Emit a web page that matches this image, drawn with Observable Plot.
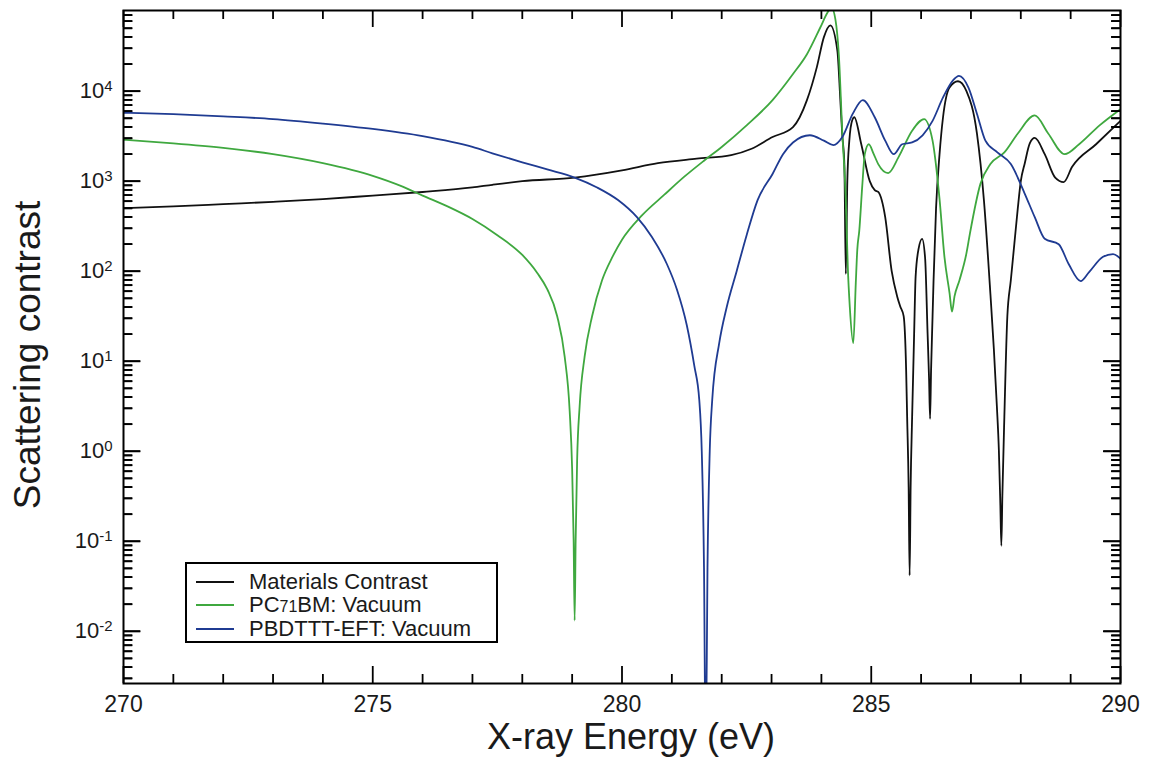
<!DOCTYPE html>
<html><head><meta charset="utf-8">
<script src="https://cdn.jsdelivr.net/npm/d3@7"></script>
<script src="https://cdn.jsdelivr.net/npm/@observablehq/plot@0.6"></script>
<style>
html,body{margin:0;padding:0;background:#fff;}
#wrap{position:relative;width:1150px;height:773px;font-family:"Liberation Sans",Arial,sans-serif;overflow:hidden;}
#legend{position:absolute;left:185px;top:562px;width:309px;height:77px;border:2px solid #000;background:#fff;}
.row{position:absolute;left:0;height:23px;display:flex;align-items:center;font-size:22px;color:#1a1a1a;white-space:nowrap;}
.sw{width:38px;height:0;border-top:2px solid;margin-left:9px;margin-right:15px;}
.small{font-size:16px;}
</style></head><body><div id="wrap"></div>
<script>
// ---- data (energy in eV, log10 of scattering contrast) ----
const seriesNames = ["Materials Contrast", "PC71BM: Vacuum", "PBDTTT-EFT: Vacuum"];
const seriesColors = ["#111111", "#3fa83f", "#1f3b92"];

const blackCurve = [[270,2.70],[271,2.72],[272,2.745],[273,2.77],[274,2.80],[275,2.84],[276,2.88],[277,2.93],[277.4,2.96],[278,3.0],[279.05,3.04],[280,3.12],[280.72,3.2],[281.5,3.25],[282.19,3.29],[282.6,3.36],[283.02,3.49],[283.43,3.6],[283.71,3.9],[283.91,4.27],[284.05,4.6],[284.18,4.73],[284.32,4.45],[284.38,3.9],[284.42,3.5],[284.46,3.2],[284.49,1.97],[284.52,3.0],[284.56,3.45],[284.62,3.68],[284.66,3.71],[284.8,3.41],[284.97,3.0],[285.07,2.9],[285.14,2.88],[285.28,2.6],[285.41,2.0],[285.52,1.72],[285.58,1.61],[285.65,1.5],[285.7,0.9],[285.72,0.38],[285.75,-0.4],[285.77,-1.38],[285.79,-0.4],[285.82,0.38],[285.86,1.3],[285.89,1.94],[285.95,2.25],[286.02,2.36],[286.08,2.15],[286.13,1.31],[286.16,0.8],[286.18,0.36],[286.2,0.9],[286.23,1.5],[286.25,1.9],[286.3,2.7],[286.37,3.3],[286.44,3.71],[286.57,4.04],[286.74,4.11],[286.91,4.0],[287.12,3.53],[287.26,2.79],[287.39,1.75],[287.46,1.13],[287.52,0.5],[287.56,0.01],[287.59,-0.6],[287.61,-1.05],[287.63,-0.5],[287.67,0.38],[287.73,1.5],[287.8,1.9],[287.87,2.3],[287.94,2.7],[288.0,3.0],[288.08,3.2],[288.18,3.42],[288.28,3.48],[288.48,3.3],[288.69,3.04],[288.86,2.99],[289.03,3.16],[289.51,3.41],[290,3.67]];

const greenCurve = [[270,3.46],[271,3.42],[272,3.37],[273,3.30],[274,3.20],[275,3.06],[275.6,2.94],[276,2.84],[276.5,2.72],[277,2.58],[277.5,2.40],[278,2.18],[278.3,1.98],[278.5,1.80],[278.7,1.50],[278.85,1.05],[278.95,0.45],[279.0,-0.2],[279.03,-1.0],[279.05,-1.88],[279.07,-1.0],[279.1,-0.1],[279.15,0.5],[279.25,1.05],[279.4,1.5],[279.6,1.9],[279.8,2.15],[280.0,2.35],[280.4,2.62],[280.85,2.85],[281.25,3.05],[281.65,3.23],[282.0,3.38],[282.5,3.62],[283.02,3.9],[283.43,4.19],[283.71,4.41],[283.98,4.71],[284.12,4.87],[284.2,4.93],[284.28,4.8],[284.35,4.4],[284.42,3.53],[284.49,2.79],[284.53,2.04],[284.57,1.6],[284.64,1.2],[284.69,1.87],[284.72,2.24],[284.76,2.45],[284.82,2.95],[284.87,3.3],[284.95,3.41],[285.05,3.3],[285.14,3.19],[285.34,3.09],[285.55,3.27],[285.82,3.56],[286.06,3.69],[286.23,3.45],[286.37,2.8],[286.47,2.15],[286.57,1.76],[286.62,1.55],[286.67,1.72],[286.77,1.9],[286.91,2.2],[286.98,2.42],[287.19,2.97],[287.39,3.19],[287.67,3.32],[287.94,3.53],[288.28,3.73],[288.55,3.53],[288.88,3.3],[289.17,3.41],[289.58,3.62],[290,3.8]];

const blueCurve = [[270,3.76],[271,3.745],[272,3.72],[273,3.69],[274,3.64],[275,3.58],[276,3.5],[277,3.38],[277.4,3.31],[278,3.21],[278.5,3.13],[279.05,3.04],[279.5,2.93],[279.92,2.79],[280.3,2.6],[280.6,2.38],[280.9,2.08],[281.1,1.8],[281.3,1.4],[281.45,0.95],[281.55,0.57],[281.6,0.0],[281.645,-1.29],[281.68,-3.5],[281.715,-1.29],[281.76,0.0],[281.81,0.57],[281.95,1.2],[282.1,1.6],[282.3,2.0],[282.5,2.4],[282.72,2.79],[283.02,3.08],[283.23,3.3],[283.43,3.43],[283.77,3.51],[284.05,3.45],[284.24,3.4],[284.42,3.49],[284.63,3.75],[284.83,3.9],[285.07,3.71],[285.28,3.45],[285.45,3.3],[285.62,3.41],[285.82,3.43],[286.03,3.51],[286.23,3.67],[286.44,3.93],[286.64,4.12],[286.76,4.17],[286.95,4.04],[287.12,3.75],[287.29,3.45],[287.53,3.32],[287.8,3.19],[288.08,2.86],[288.28,2.6],[288.48,2.36],[288.76,2.3],[288.96,2.08],[289.2,1.89],[289.37,1.99],[289.65,2.16],[289.85,2.19],[290,2.14]];

const xDomain = [270, 290];
const xMajorTicks = [270, 275, 280, 285, 290];
const xMinorTicks = d3.range(270, 291, 1);
const yDecades = [1e-2, 1e-1, 1e0, 1e1, 1e2, 1e3, 1e4];
const yDomain = [2.63e-3, 7.87e4];
const xLabel = "X-ray Energy (eV)";
const yLabel = "Scattering contrast";

// ---- layout ----
const W = 1150, H = 773, mL = 123, mR = 30, mT = 10, mB = 90;
const frameW = W - mL - mR, frameH = H - mT - mB;
const majorLen = 17, minorLen = 9;
const evPerPx = (xDomain[1] - xDomain[0]) / frameW;

// ---- build ----
const toRows = (curve, name) => curve.map(([e, lg]) => ({energy: e, contrast: Math.pow(10, lg), series: name}));
const data = [
  ...toRows(blackCurve, seriesNames[0]),
  ...toRows(greenCurve, seriesNames[1]),
  ...toRows(blueCurve, seriesNames[2])
];
const yMinor = [];
for (const d of [1e-3, ...yDecades]) for (let m = 2; m <= 9; m++) {
  const v = d * m;
  if (v >= yDomain[0] && v <= yDomain[1]) yMinor.push(v);
}
const xMinorOnly = xMinorTicks.filter(v => !xMajorTicks.includes(v));

const tk = {stroke: "#000", strokeWidth: 1.8};
// horizontal inward ticks on the left and right frame edges
const yTickLinks = (values, len) => [
  Plot.link(values, {x1: () => xDomain[0], x2: () => xDomain[0] + len * evPerPx, y1: d => d, y2: d => d, ...tk}),
  Plot.link(values, {x1: () => xDomain[1] - len * evPerPx, x2: () => xDomain[1], y1: d => d, y2: d => d, ...tk})
];

const chart = Plot.plot({
  width: W, height: H,
  marginLeft: mL, marginRight: mR, marginTop: mT, marginBottom: mB,
  style: {fontFamily: "'Liberation Sans', Arial, sans-serif", background: "white", color: "#1a1a1a"},
  x: {domain: xDomain, axis: null},
  y: {type: "log", domain: yDomain, axis: null},
  color: {domain: seriesNames, range: seriesColors},
  marks: [
    Plot.line(data, {x: "energy", y: "contrast", z: "series", stroke: "series", strokeWidth: 1.8, curve: "monotone-x", clip: true}),
    // tick labels
    Plot.axisX(xMajorTicks, {anchor: "bottom", tickSize: 0, tickPadding: 12, fontSize: 23, label: null, tickFormat: d => String(d)}),
    Plot.axisY(yDecades, {anchor: "left", tickSize: 0, tickPadding: 11, fontSize: 22, label: null, tickFormat: d => String(Math.round(Math.log10(d)))}),
    Plot.frame({stroke: "#000", strokeWidth: 2}),
    // axis titles
    Plot.text([xLabel], {frameAnchor: "bottom", dx: 9, dy: 54, fontSize: 36, lineAnchor: "middle", textAnchor: "middle", fill: "#1a1a1a"}),
    Plot.text([yLabel], {frameAnchor: "left", rotate: -90, dx: -95, dy: 8, fontSize: 37, lineAnchor: "middle", textAnchor: "middle", fill: "#1a1a1a"}),
    // inward ticks: bottom / top
    Plot.tickX(xMinorOnly, {x: d => d, insetTop: frameH - minorLen, ...tk}),
    Plot.tickX(xMajorTicks, {x: d => d, insetTop: frameH - majorLen, ...tk}),
    Plot.tickX(xMinorOnly, {x: d => d, insetBottom: frameH - minorLen, ...tk}),
    Plot.tickX(xMajorTicks, {x: d => d, insetBottom: frameH - majorLen, ...tk}),
    // inward ticks: left / right
    ...yTickLinks(yMinor, minorLen),
    ...yTickLinks(yDecades, majorLen),
    Plot.ruleY(yMinor, {y: d => d, insetRight: frameW - minorLen, ...tk}),
    Plot.ruleY(yDecades, {y: d => d, insetRight: frameW - majorLen, ...tk}),
    Plot.ruleY(yMinor, {y: d => d, insetLeft: frameW - minorLen, ...tk}),
    Plot.ruleY(yDecades, {y: d => d, insetLeft: frameW - majorLen, ...tk})
  ]
});

// superscript exponents on y tick labels
d3.select(chart).selectAll('[aria-label="y-axis tick label"] text').each(function() {
  const exp = this.textContent;
  const t = d3.select(this);
  t.text("10");
  t.append("tspan").attr("dy", "-0.5em").attr("font-size", 15).text(exp);
});

const wrap = document.getElementById("wrap");
wrap.appendChild(chart);

// legend
const legend = document.createElement("div");
legend.id = "legend";
seriesNames.forEach((name, i) => {
  const row = document.createElement("div");
  row.className = "row";
  row.style.top = (6 + i * 23.5) + "px";
  const sw = document.createElement("span");
  sw.className = "sw";
  sw.style.borderTopColor = seriesColors[i];
  const label = document.createElement("span");
  label.innerHTML = name.replace(/(\d+)/, '<span class="small">$1</span>');
  row.appendChild(sw);
  row.appendChild(label);
  legend.appendChild(row);
});
wrap.appendChild(legend);
</script>
</body></html>
